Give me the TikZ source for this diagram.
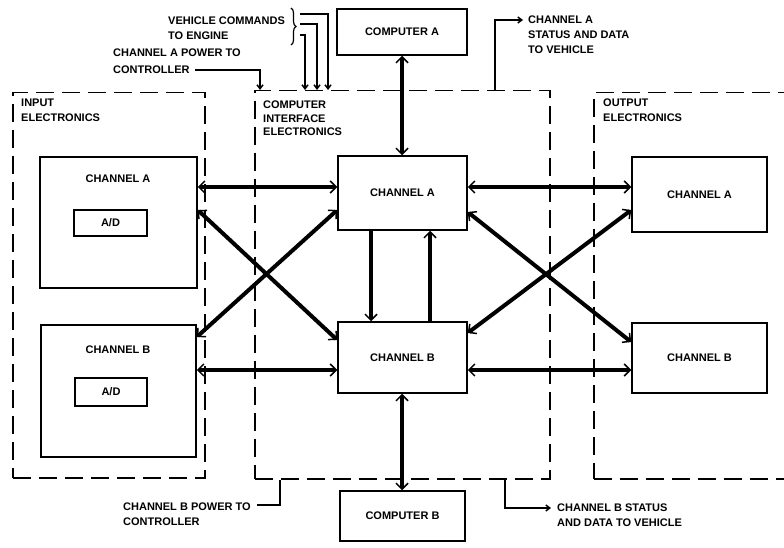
\documentclass[tikz,border=0pt]{standalone}
\usepackage{fontspec}
\setmainfont{Liberation Sans}
\usetikzlibrary{arrows.meta,decorations.pathreplacing}
\begin{document}
\begin{tikzpicture}[x=1pt,y=-1pt,
  txt/.style={font=\fontsize{11}{15}\selectfont\bfseries, inner sep=0pt, align=left, anchor=north west},
  ctxt/.style={font=\fontsize{11}{15}\selectfont\bfseries, inner sep=0pt},
  blk/.style={draw, line width=1.5pt, inner sep=0pt, font=\fontsize{11}{15}\selectfont\bfseries},
  grp/.style={draw, line width=1.5pt, dash pattern=on 18pt off 8pt, inner sep=0pt, anchor=north west},
  bus/.style={line width=4pt, {Straight Barb[length=6pt,width=12pt,line width=1.5pt]}-{Straight Barb[length=6pt,width=12pt,line width=1.5pt]}},
  onebus/.style={line width=4pt, -{Straight Barb[length=6pt,width=12pt,line width=1.5pt]}},
  wire/.style={line width=1.5pt},
  warrow/.style={line width=1.5pt, -{Straight Barb[length=4pt,width=6pt]}},
]
\useasboundingbox (0,0) rectangle (784,548);

% dashed groups
\node[grp, minimum width=192pt, minimum height=385pt] (inG) at (12,92) {};
\node[grp, minimum width=295pt, minimum height=388pt] (ifG) at (254,90) {};
\node[grp, minimum width=220pt, minimum height=386pt] (outG) at (593,92) {};

% group labels
\node[txt] (inL) at (21,99) {INPUT\\ELECTRONICS};
\node[txt, font=\fontsize{11}{13.5}\selectfont\bfseries] (ifL) at (263,101) {COMPUTER\\INTERFACE\\ELECTRONICS};
\node[txt] (outL) at (603,99) {OUTPUT\\ELECTRONICS};

% input blocks
\node[blk, minimum width=157pt, minimum height=131pt] (inA) at (118.5,222.5) {};
\node[ctxt] (inAt) at (118,179) {CHANNEL A};
\node[blk, minimum width=73pt, minimum height=26pt] (adA) at (110.5,223) {A/D};
\node[blk, minimum width=155pt, minimum height=132pt] (inB) at (118.5,391) {};
\node[ctxt] (inBt) at (118,350) {CHANNEL B};
\node[blk, minimum width=72pt, minimum height=28pt] (adB) at (111,392) {A/D};

% interface and computers
\node[blk, minimum width=129pt, minimum height=74pt] (ifA) at (402.5,193) {CHANNEL A};
\node[blk, minimum width=129pt, minimum height=71pt] (ifB) at (402.5,357.5) {CHANNEL B};
\node[blk, minimum width=130pt, minimum height=46pt] (cA) at (402,32) {COMPUTER A};
\node[blk, minimum width=125pt, minimum height=50pt] (cB) at (402.5,516) {COMPUTER B};

% output blocks
\node[blk, minimum width=135pt, minimum height=75pt] (outA) at (699.5,194.5) {CHANNEL A};
\node[blk, minimum width=135pt, minimum height=70pt] (outB) at (699.5,358) {CHANNEL B};

% buses
\draw[bus] (inA.east |- 0,187) -- (ifA.west |- 0,187);
\draw[bus] (inA.east |- 0,210) -- (ifB.west |- 0,340);
\draw[bus] (inB.east |- 0,337) -- (ifA.west |- 0,210);
\draw[bus] (inB.east |- 0,370) -- (ifB.west |- 0,370);
\draw[bus] (ifA.east |- 0,187) -- (outA.west |- 0,187);
\draw[bus] (ifA.east |- 0,212) -- (outB.west |- 0,342);
\draw[bus] (outA.west |- 0,210) -- (ifB.east |- 0,333);
\draw[bus] (ifB.east |- 0,370) -- (outB.west |- 0,370);
\draw[onebus] (ifA.south -| 371,0) -- (ifB.north -| 371,0);
\draw[onebus] (ifB.north -| 430,0) -- (ifA.south -| 430,0);
\draw[bus] (cA.south -| 402,0) -- (ifA.north -| 402,0);
\draw[bus] (ifB.south -| 402,0) -- (cB.north -| 402,0);

% top wires
\draw[decorate, decoration={brace, amplitude=5pt}, line width=1.2pt] (291,8) -- (291,45);
\coordinate (v1) at (300,14);
\coordinate (v2) at (300,24);
\coordinate (v3) at (300,35);
\draw[warrow] (v1) -| (ifG.north -| 328,0);
\draw[warrow] (v2) -| (ifG.north -| 317,0);
\draw[warrow] (v3) -| (ifG.north -| 305,0);
\coordinate (pa) at (195,70);
\draw[warrow] (pa) -| (ifG.north -| 260,0);
\coordinate (sa) at (523,20);
\draw[warrow] (ifG.north -| 495,0) |- (sa);

% bottom wires
\coordinate (pb) at (257,505);
\draw[wire] (pb) -| (ifG.south -| 280,0);
\coordinate (sb) at (551,508);
\draw[warrow] (ifG.south -| 505,0) |- (sb);

% texts
\node[txt, font=\fontsize{11}{14.5}\selectfont\bfseries] (vc) at (168,17) {VEHICLE COMMANDS\\TO ENGINE};
\node[txt, font=\fontsize{11}{16.5}\selectfont\bfseries] (pat) at (113,49) {CHANNEL A POWER TO\\CONTROLLER};
\node[txt] (sat) at (528,16) {CHANNEL A\\STATUS AND DATA\\TO VEHICLE};
\node[txt] (pbt) at (123,503) {CHANNEL B POWER TO\\CONTROLLER};
\node[txt] (sbt) at (557,504) {CHANNEL B STATUS\\AND DATA TO VEHICLE};
\end{tikzpicture}
\end{document}
